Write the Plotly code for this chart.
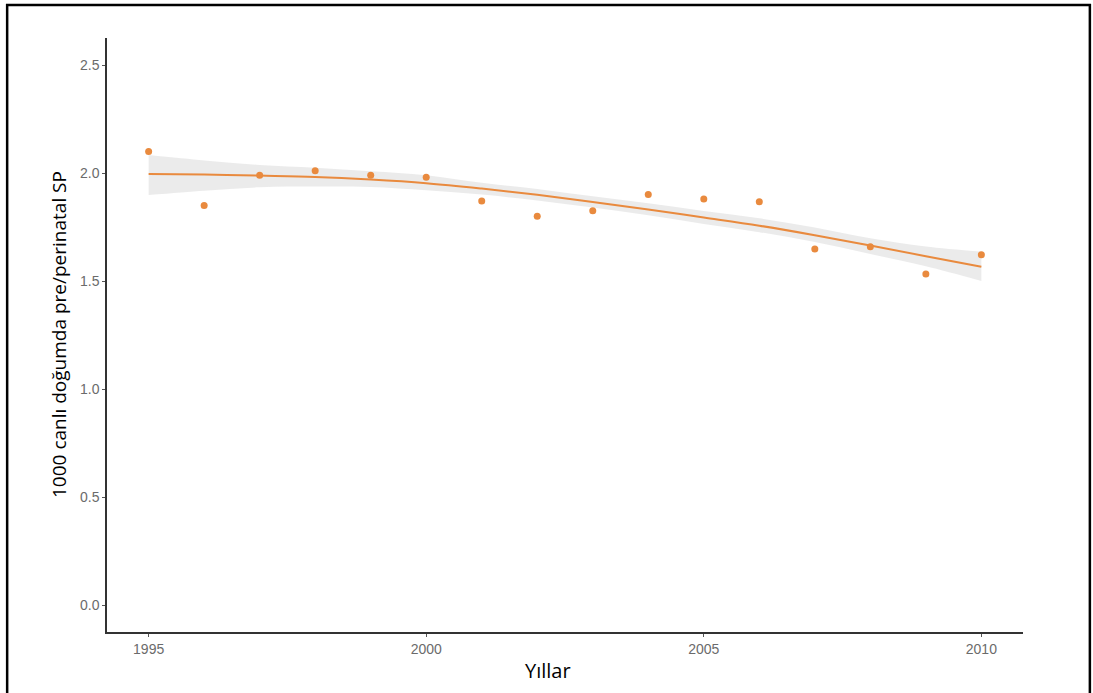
import plotly.graph_objects as go

years = [1995, 1996, 1997, 1998, 1999, 2000, 2001, 2002, 2003, 2004, 2005, 2006, 2007, 2008, 2009, 2010]
rate = [2.10, 1.85, 1.99, 2.01, 1.99, 1.98, 1.87, 1.80, 1.825, 1.90, 1.88, 1.867, 1.648, 1.659, 1.532, 1.622]

fit = [1.995, 1.993, 1.988, 1.982, 1.970, 1.953, 1.928, 1.899, 1.866, 1.831, 1.794, 1.756, 1.712, 1.664, 1.615, 1.566]
fit_upper = [2.083, 2.058, 2.037, 2.024, 2.008, 1.990, 1.955, 1.926, 1.892, 1.860, 1.824, 1.790, 1.748, 1.698, 1.660, 1.636]
fit_lower = [1.898, 1.918, 1.934, 1.937, 1.935, 1.920, 1.900, 1.873, 1.840, 1.804, 1.764, 1.726, 1.680, 1.625, 1.568, 1.500]

x_ticks = [1995, 2000, 2005, 2010]
y_ticks = [0.0, 0.5, 1.0, 1.5, 2.0, 2.5]

orange = "#E98A3E"

fig = go.Figure()
fig.add_trace(go.Scatter(x=years, y=fit_lower, mode="lines", line=dict(width=0, shape="spline"),
                         hoverinfo="skip", showlegend=False))
fig.add_trace(go.Scatter(x=years, y=fit_upper, mode="lines", line=dict(width=0, shape="spline"),
                         fill="tonexty", fillcolor="rgba(153,153,153,0.2)", hoverinfo="skip", showlegend=False))
fig.add_trace(go.Scatter(x=years, y=fit, mode="lines", line=dict(color=orange, width=2, shape="spline"),
                         showlegend=False))
fig.add_trace(go.Scatter(x=years, y=rate, mode="markers", marker=dict(color=orange, size=7),
                         showlegend=False))

axis_common = dict(showline=True, linecolor="#333333", linewidth=1.5, ticks="outside", ticklen=3,
                   tickwidth=1, tickcolor="#555555", showgrid=False, zeroline=False,
                   tickfont=dict(family="Liberation Sans, Arial", size=14, color="#6b6b6b"))

fig.update_xaxes(range=[1994.25, 2010.75], tickvals=x_ticks, ticktext=[str(v) for v in x_ticks],
                 **axis_common)
fig.update_yaxes(range=[-0.125, 2.625], tickvals=y_ticks, tickformat=".1f", **axis_common)

fig.add_annotation(text="Yıllar", xref="paper", yref="paper", x=0.481, y=-0.064,
                   xanchor="center", yanchor="middle", showarrow=False,
                   font=dict(family="Open Sans", size=20, color="#000000"))
fig.add_annotation(text="1000 canlı doğumda pre/perinatal SP", xref="paper", yref="paper",
                   x=-0.0524, y=0.5, xanchor="center", yanchor="middle", textangle=-90, showarrow=False,
                   font=dict(family="Open Sans", size=19, color="#000000"))

fig.add_shape(type="rect", xref="paper", yref="paper", x0=-0.109, x1=1.073, y0=-0.12, y1=1.0556,
              line=dict(color="#000000", width=2.5), fillcolor="rgba(0,0,0,0)", layer="above")

fig.update_layout(width=1093, height=693, margin=dict(l=107, r=70, t=38, b=61),
                  plot_bgcolor="white", paper_bgcolor="white")

fig.write_html("out.html", config={"displayModeBar": False},
               post_script="document.body.style.margin='0px';")
